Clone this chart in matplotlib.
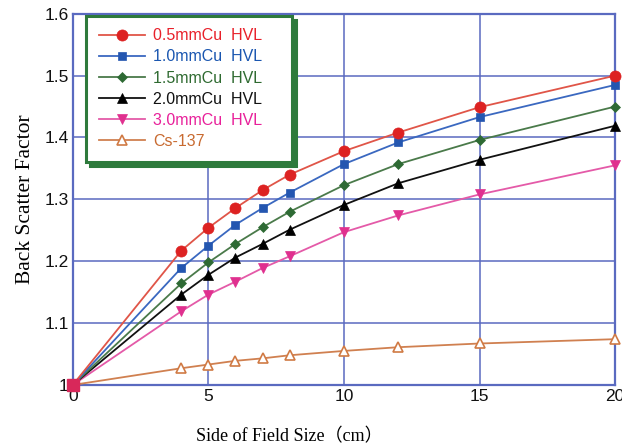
import matplotlib
matplotlib.use("Agg")
import matplotlib.pyplot as plt

field_size = [0, 4, 5, 6, 7, 8, 10, 12, 15, 20]
bsf_05 = [1.0, 1.217, 1.254, 1.286, 1.315, 1.340, 1.378, 1.408, 1.449, 1.500]
bsf_10 = [1.0, 1.189, 1.225, 1.259, 1.286, 1.311, 1.357, 1.392, 1.433, 1.485]
bsf_15 = [1.0, 1.164, 1.198, 1.228, 1.255, 1.280, 1.323, 1.357, 1.396, 1.450]
bsf_20 = [1.0, 1.146, 1.178, 1.206, 1.228, 1.251, 1.291, 1.326, 1.364, 1.419]
bsf_30 = [1.0, 1.119, 1.146, 1.167, 1.189, 1.208, 1.247, 1.274, 1.308, 1.355]
bsf_cs = [1.0, 1.027, 1.033, 1.039, 1.043, 1.048, 1.055, 1.061, 1.067, 1.074]
labels = ["0.5mmCu  HVL", "1.0mmCu  HVL", "1.5mmCu  HVL", "2.0mmCu  HVL", "3.0mmCu  HVL", "Cs-137"]
x_ticks = [0, 5, 10, 15, 20]
y_ticks = [1.0, 1.1, 1.2, 1.3, 1.4, 1.5, 1.6]
y_tick_labels = ["1", "1.1", "1.2", "1.3", "1.4", "1.5", "1.6"]

series = [bsf_05, bsf_10, bsf_15, bsf_20, bsf_30, bsf_cs]
line_colors = ["#e05548", "#3a68c0", "#4a7a4a", "#111111", "#e45aa8", "#d08050"]
marker_colors = ["#dd2222", "#2456b0", "#2e6a34", "#000000", "#e0308f", "#d07a44"]
text_colors = ["#e8202a", "#1a56b0", "#2e6a30", "#111111", "#e8209a", "#c86a30"]
markers = ["o", "s", "D", "^", "v", "^"]
msizes = [8, 5.8, 5.2, 7.2, 7.2, 6.8]

fig = plt.figure(figsize=(6.22, 4.44), dpi=100)
ax = fig.add_axes([0.117, 0.133, 0.872, 0.836])

grid_c = "#5a6ac0"
ax.set_xlim(0, 20)
ax.set_ylim(1.0, 1.6)
ax.set_xticks(x_ticks)
ax.set_yticks(y_ticks)
ax.set_yticklabels(y_tick_labels)
ax.grid(True, color=grid_c, linewidth=1.1)
ax.set_axisbelow(True)
for s in ax.spines.values():
    s.set_color(grid_c)
    s.set_linewidth(1.6)
ax.tick_params(direction="in", length=0, labelsize=12.5, colors="#111111", pad=3)
for lab in ax.get_xticklabels() + ax.get_yticklabels():
    lab.set_family("Liberation Sans")

handles = []
for ys, lc, mc, mk, ms, i in zip(series, line_colors, marker_colors, markers, msizes, range(6)):
    open_m = (i == 5)
    h, = ax.plot(field_size, ys, color=lc, linewidth=1.3, marker=mk, markersize=ms,
                 markerfacecolor="white" if open_m else mc, markeredgecolor=mc,
                 markeredgewidth=1.2 if open_m else 0.5, markevery=list(range(1, len(ys))),
                 clip_on=False, zorder=3 + (6 - i))
    handles.append(h)

ax.plot(field_size[:1], bsf_05[:1], linestyle="none", marker="s", markersize=8,
        markerfacecolor="#d8285a", markeredgecolor="#d8285a", clip_on=False, zorder=20)

ax.set_ylabel("Back Scatter Factor", family=["Liberation Serif"], fontsize=15.5)
ax.yaxis.set_label_coords(-0.07, 0.5)
ax.set_xlabel("Side of Field Size（cm）", family=["Liberation Serif", "Noto Sans CJK JP"],
              fontsize=13)
ax.xaxis.set_label_coords(0.40, -0.115)

leg = ax.legend(handles, labels, loc="upper left", bbox_to_anchor=(0.024, 0.995, 0.38, 0),
                mode="expand", frameon=True, fancybox=False, handlelength=2.9,
                borderpad=0.8, labelspacing=0.38, handletextpad=0.5, borderaxespad=0,
                shadow={"color": "#2e7a3c", "alpha": 1.0, "ox": 3, "oy": -3},
                prop={"family": "Liberation Sans", "size": 11.5})
leg.get_frame().set_edgecolor("#2e7a3c")
leg.get_frame().set_linewidth(2.2)
leg.set_zorder(30)
for t, c in zip(leg.get_texts(), text_colors):
    t.set_color(c)

fig.savefig("out.png", dpi=100)
